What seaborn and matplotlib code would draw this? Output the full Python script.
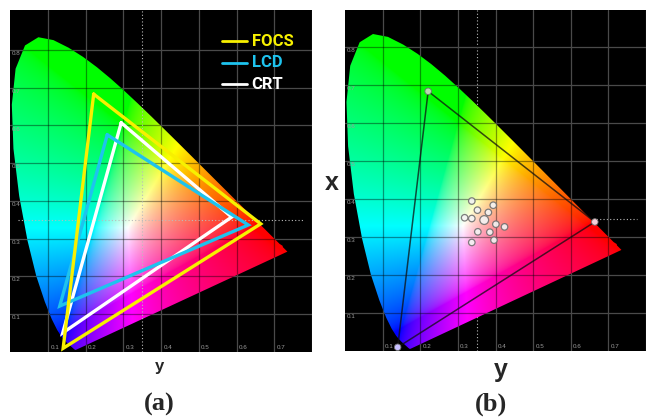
import numpy as np
import pandas as pd
import seaborn as sns
import matplotlib.pyplot as plt
from matplotlib.patches import Polygon

# CIE 1931 spectral locus, 380-700 nm
locus_x = [0.1741, 0.1740, 0.1738, 0.1736, 0.1733, 0.1730, 0.1726, 0.1721, 0.1714, 0.1703,
           0.1689, 0.1669, 0.1644, 0.1611, 0.1566, 0.1510, 0.1440, 0.1355, 0.1241, 0.1096,
           0.0913, 0.0687, 0.0454, 0.0235, 0.0082, 0.0039, 0.0139, 0.0389, 0.0743, 0.1142,
           0.1547, 0.1929, 0.2296, 0.2658, 0.3016, 0.3373, 0.3731, 0.4087, 0.4441, 0.4788,
           0.5125, 0.5448, 0.5752, 0.6029, 0.6270, 0.6482, 0.6658, 0.6801, 0.6915, 0.7006,
           0.7079, 0.7140, 0.7219, 0.7230, 0.7260, 0.7283, 0.7300, 0.7311, 0.7320, 0.7334,
           0.7344, 0.7347]
locus_y = [0.0050, 0.0050, 0.0049, 0.0049, 0.0048, 0.0048, 0.0048, 0.0048, 0.0051, 0.0058,
           0.0069, 0.0086, 0.0109, 0.0138, 0.0177, 0.0227, 0.0297, 0.0399, 0.0578, 0.0868,
           0.1327, 0.2007, 0.2950, 0.4127, 0.5384, 0.6548, 0.7502, 0.8120, 0.8338, 0.8262,
           0.8059, 0.7816, 0.7543, 0.7243, 0.6923, 0.6589, 0.6245, 0.5896, 0.5547, 0.5202,
           0.4866, 0.4544, 0.4242, 0.3965, 0.3725, 0.3514, 0.3340, 0.3197, 0.3083, 0.2993,
           0.2920, 0.2859, 0.2809, 0.2770, 0.2740, 0.2717, 0.2700, 0.2689, 0.2680, 0.2666,
           0.2656, 0.2653]

# display gamuts (panel a)
focs_x = [0.221, 0.664, 0.140]
focs_y = [0.683, 0.339, 0.009]
lcd_x = [0.257, 0.631, 0.131]
lcd_y = [0.575, 0.336, 0.121]
crt_x = [0.294, 0.587, 0.139]
crt_y = [0.607, 0.357, 0.050]

# measured points (panel b)
pts_x = [0.337, 0.394, 0.352, 0.381, 0.318, 0.337, 0.370, 0.401, 0.424, 0.353, 0.385, 0.396, 0.337]
pts_y = [0.394, 0.383, 0.370, 0.364, 0.350, 0.348, 0.344, 0.333, 0.326, 0.313, 0.312, 0.291, 0.285]
pts_big = [0, 0, 0, 0, 0, 0, 1, 0, 0, 0, 0, 0, 0]

grid_ticks = [0.1, 0.2, 0.3, 0.4, 0.5, 0.6, 0.7, 0.8]
ref_x, ref_y = 0.35, 0.348

sns.set_style("dark")
plt.rcParams["font.family"] = ["Liberation Sans", "DejaVu Sans"]

W, H = 646, 418
fig = plt.figure(figsize=(W / 100, H / 100), dpi=100)
ax1 = fig.add_axes([10.35 / W, (H - 351.7) / H, 301.65 / W, 341.7 / H])
ax2 = fig.add_axes([345 / W, (H - 350.7) / H, 301 / W, 340.7 / H])


def chroma_rgb(xmax, ymax, n=500):
    xx, yy = np.meshgrid(np.linspace(0, xmax, n), np.linspace(0.002, ymax, n))
    X = xx / yy
    Z = (1 - xx - yy) / yy
    r = 3.2406 * X - 1.5372 - 0.4986 * Z
    g = -0.9689 * X + 1.8758 + 0.0415 * Z
    b = 0.0557 * X - 0.2040 + 1.0570 * Z
    rgb = np.clip(np.stack([r, g, b], axis=-1), 0, None)
    rgb = rgb / (rgb.max(axis=-1, keepdims=True) + 1e-9)
    return np.clip(rgb ** (1 / 1.8), 0, 1)


def base(ax, xmax, ymax, dotted_on_top):
    ax.set_facecolor("black")
    for s in ax.spines.values():
        s.set_visible(False)
    img = chroma_rgb(xmax, ymax)
    im = ax.imshow(img, extent=[0, xmax, 0.002, ymax], origin="lower",
                   aspect="auto", zorder=1, interpolation="bilinear")
    clip = Polygon(np.column_stack([locus_x, locus_y]), closed=True,
                   transform=ax.transData)
    im.set_clip_path(clip)
    ax.set_xlim(0, xmax)
    ax.set_ylim(0, ymax)
    ax.set_xticks(grid_ticks)
    ax.set_yticks(grid_ticks)
    ax.tick_params(length=0, labelbottom=False, labelleft=False)
    ax.grid(True, color="#4a4a4a", lw=0.9)
    ax.set_axisbelow(True)
    # darker grid over the coloured area
    for t in grid_ticks:
        for ln in (ax.axvline(t, color="black", lw=0.9, alpha=0.4, zorder=2),
                   ax.axhline(t, color="black", lw=0.9, alpha=0.4, zorder=2)):
            ln.set_clip_path(clip)
    for t in grid_ticks[:7]:
        ax.text(t + 0.006, 0.004, f"{t:.1f}", color="#9a9a9a", fontsize=4.5,
                ha="left", va="bottom", zorder=4)
    for t in grid_ticks:
        ax.text(0.005, t - 0.003, f"{t:.1f}", color="#9a9a9a", fontsize=4.5,
                ha="left", va="top", zorder=4)
    z = 2.6 if dotted_on_top else 0.5
    ax.axvline(ref_x, color="#bbbbbb", lw=0.8, ls=(0, (1, 2)), zorder=z)
    if dotted_on_top:
        ax.plot([0.02, xmax - 0.015], [ref_y, ref_y], color="#bbbbbb", lw=0.8,
                ls=(0, (1, 2)), zorder=z)
    else:
        ax.plot([0.66, xmax - 0.01], [ref_y, ref_y], color="#bbbbbb", lw=0.8,
                ls=(0, (1, 2)), zorder=z)


base(ax1, 0.795, 0.906, True)
base(ax2, 0.785, 0.897, False)

# panel a: gamut triangles
gamuts = [("CRT", crt_x, crt_y, "white"),
          ("LCD", lcd_x, lcd_y, "#1ec3ee"),
          ("FOCS", focs_x, focs_y, "#f7f000")]
for name, gx, gy, col in gamuts:
    tri = pd.DataFrame({"x": gx + gx[:1], "y": gy + gy[:1]})
    sns.lineplot(data=tri, x="x", y="y", sort=False, estimator=None, color=col,
                 lw=2.4, ax=ax1, zorder=3, legend=False)
for line in ax1.lines[-3:]:
    line.set_solid_joinstyle("miter")
ax1.set_xlabel("")
ax1.set_ylabel("")

for i, (name, gx, gy, col) in enumerate(gamuts[::-1]):
    yy = 0.909 - i * 0.063
    ax1.plot([0.70, 0.784], [yy, yy], color=col, lw=2.0, transform=ax1.transAxes, zorder=5)
    ax1.text(0.80, yy, name, color=col, fontsize=12, fontweight="bold",
             family=["Roboto", "DejaVu Sans"], ha="left", va="center",
             transform=ax1.transAxes, zorder=5)

# panel b: gamut + measured points
tri = pd.DataFrame({"x": focs_x + focs_x[:1], "y": focs_y + focs_y[:1]})
sns.lineplot(data=tri, x="x", y="y", sort=False, estimator=None, color="#101010",
             lw=1.1, alpha=0.75, ax=ax2, zorder=3, legend=False)
sns.scatterplot(x=focs_x, y=focs_y, hue=["g", "r", "b"],
                palette={"g": "#b8d8b0", "r": "#f4d0d8", "b": "#c8c0ff"},
                s=22, edgecolor="#707070", linewidth=0.6, ax=ax2, zorder=4, legend=False)
pts = pd.DataFrame({"x": pts_x, "y": pts_y, "big": pts_big})
sns.scatterplot(data=pts, x="x", y="y", size="big", sizes={0: 22, 1: 40},
                color="#f4f4f4", edgecolor="#707070", linewidth=0.9, alpha=0.9,
                ax=ax2, zorder=4, legend=False)
ax2.set_xlabel("")
ax2.set_ylabel("")

fig.text(159.5 / W, 1 - 367 / H, "y", fontsize=12, fontweight="bold", ha="center", va="center")
fig.text(501 / W, 1 - 370 / H, "y", fontsize=18, fontweight="bold", ha="center", va="center")
fig.text(332 / W, 1 - 183 / H, "x", fontsize=18, fontweight="bold", ha="center", va="center")
fig.text(159 / W, 1 - 404 / H, "(a)", fontsize=19, fontweight="bold",
         family=["Liberation Serif", "DejaVu Serif"], ha="center", va="center")
fig.text(491 / W, 1 - 404 / H, "(b)", fontsize=19, fontweight="bold",
         family=["Liberation Serif", "DejaVu Serif"], ha="center", va="center")

fig.savefig("out.png", dpi=100, facecolor="white")
